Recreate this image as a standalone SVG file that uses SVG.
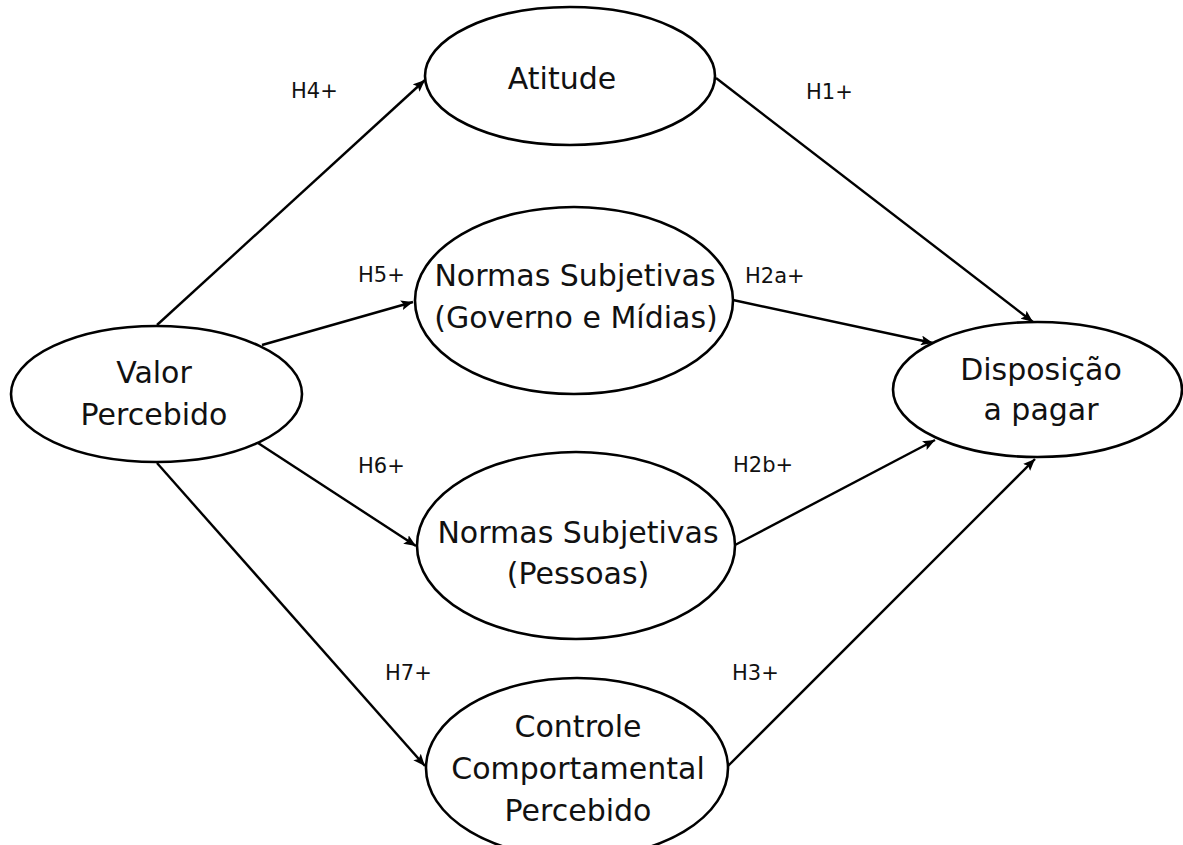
<svg xmlns="http://www.w3.org/2000/svg" width="1183" height="845" viewBox="0 0 1183 845">
<defs>
<marker id="arr" markerWidth="12" markerHeight="10" refX="12" refY="5" orient="auto" markerUnits="userSpaceOnUse">
<path d="M0,0 L12,5 L0,10 L2.5,5 Z" fill="#000"/>
</marker>
<style>
.node ellipse{fill:#fff;stroke:#000;stroke-width:2.6}
.node text{font-family:"DejaVu Sans",sans-serif;font-size:30px;text-anchor:middle;fill:#111}
.edges line{stroke:#000;stroke-width:2.4;marker-end:url(#arr)}
.lbl{font-family:"DejaVu Sans",sans-serif;font-size:21px;fill:#111}
</style>
</defs>
<rect width="1183" height="845" fill="#fff"/>
<g class="edges" id="connectors">
<line x1="157" y1="325" x2="425" y2="80"/>
<line x1="262" y1="345" x2="413" y2="302"/>
<line x1="258" y1="443" x2="416" y2="546"/>
<line x1="157" y1="463" x2="425" y2="766"/>
<line x1="716" y1="78" x2="1033" y2="322"/>
<line x1="733" y1="300" x2="933" y2="343"/>
<line x1="735" y1="545" x2="935" y2="440"/>
<line x1="728" y1="766" x2="1035" y2="459"/>
</g>
<g id="edge-labels">
<text class="lbl" x="291" y="98">H4+</text>
<text class="lbl" x="358" y="282">H5+</text>
<text class="lbl" x="358" y="473">H6+</text>
<text class="lbl" x="385" y="680">H7+</text>
<text class="lbl" x="806" y="99">H1+</text>
<text class="lbl" x="745" y="283">H2a+</text>
<text class="lbl" x="733" y="472">H2b+</text>
<text class="lbl" x="732" y="680">H3+</text>
</g>
<g class="node" id="valor">
<ellipse cx="156.5" cy="394" rx="145.5" ry="68"/>
<text x="154" y="383">Valor</text>
<text x="154" y="425">Percebido</text>
</g>
<g class="node" id="atitude">
<ellipse cx="570" cy="76" rx="145" ry="69"/>
<text x="562" y="89">Atitude</text>
</g>
<g class="node" id="normas-gov">
<ellipse cx="574" cy="300.5" rx="159" ry="93.5"/>
<text x="575" y="286">Normas Subjetivas</text>
<text x="576" y="328">(Governo e Mídias)</text>
</g>
<g class="node" id="normas-pessoas">
<ellipse cx="576" cy="545.5" rx="159" ry="93.5"/>
<text x="578" y="543">Normas Subjetivas</text>
<text x="578" y="584">(Pessoas)</text>
</g>
<g class="node" id="controle">
<ellipse cx="577" cy="768" rx="151" ry="90"/>
<text x="578" y="737">Controle</text>
<text x="578" y="779">Comportamental</text>
<text x="578" y="821">Percebido</text>
</g>
<g class="node" id="disposicao">
<ellipse cx="1037.5" cy="389.5" rx="144.5" ry="67.5"/>
<text x="1041" y="380">Disposição</text>
<text x="1041" y="420">a pagar</text>
</g>
</svg>
